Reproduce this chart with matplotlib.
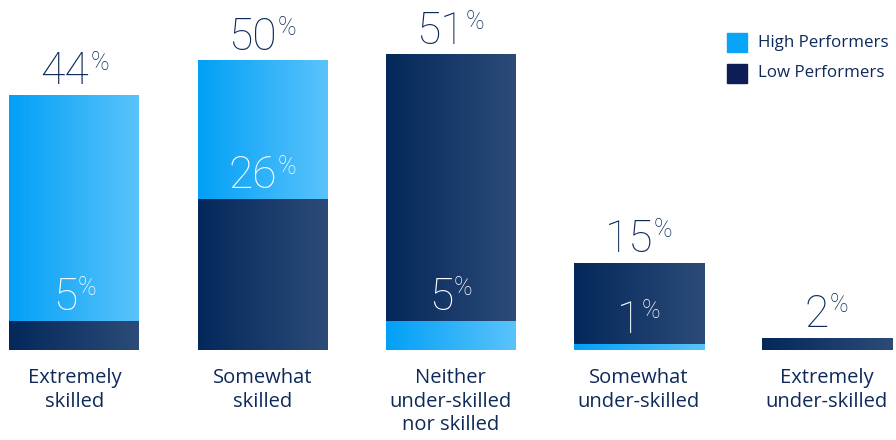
import numpy as np
import matplotlib
matplotlib.use("Agg")
import matplotlib.pyplot as plt
from matplotlib.colors import LinearSegmentedColormap

plt.rcParams['font.family'] = ['Open Sans', 'DejaVu Sans']
NUM_FONT = ['Roboto', 'DejaVu Sans']

categories = ["Extremely\nskilled", "Somewhat\nskilled", "Neither\nunder-skilled\nnor skilled",
              "Somewhat\nunder-skilled", "Extremely\nunder-skilled"]
high_perf = [44, 50, 5, 1, 0]
low_perf = [5, 26, 51, 15, 2]

NAVY = "#0d2a5a"
light_cmap = LinearSegmentedColormap.from_list("light", ["#02a0f6", "#5ac3fb"])
dark_cmap = LinearSegmentedColormap.from_list("dark", ["#04285b", "#2c4b78"])

W, H = 896, 440
fig = plt.figure(figsize=(W/100, H/100), dpi=100)
ax = fig.add_axes([0, 90/H, 1, 350/H])
spacing = 188.0
xlim = (-74.5/spacing, (W-74.5)/spacing)
ylim = (0, 51*350/295)

x = np.arange(len(categories))
width = 130/spacing
grad = np.linspace(0, 1, 256).reshape(1, -1)


def gradient_bars(vals, cmap, zorders):
    bars = ax.bar(x, vals, width=width, color='none')
    for b, z in zip(bars, zorders):
        if b.get_height() <= 0:
            continue
        x0, y0 = b.get_x(), b.get_y()
        ax.imshow(grad, cmap=cmap, aspect='auto', zorder=z,
                  extent=(x0, x0+b.get_width(), y0, y0+b.get_height()))
    return bars


# the shorter series of each column is drawn in front
hz = [2 if h >= l else 4 for h, l in zip(high_perf, low_perf)]
lz = [2 if l > h else 4 for h, l in zip(high_perf, low_perf)]
gradient_bars(high_perf, light_cmap, hz)
gradient_bars(low_perf, dark_cmap, lz)
ax.set_xlim(*xlim)
ax.set_ylim(*ylim)
ax.axis('off')

NUM_PT = 32
PCT_PT = 18
GAP_PT = 8
labels = []
for i in x:
    h, l = high_perf[i], low_perf[i]
    top, inner = max(h, l), min(h, l)
    for v, col in ((top, NAVY), (inner, 'white')):
        if v <= 0:
            continue
        labels.append(ax.annotate(f"{v}", (i, v), xytext=(-7, GAP_PT), textcoords='offset points',
                                  ha='center', va='baseline', fontsize=NUM_PT, weight='light',
                                  family=NUM_FONT, color=col, zorder=6))

# raised percent sign right after each number
fig.canvas.draw()
r = fig.canvas.get_renderer()
px = fig.dpi/72
for t in labels:
    bb = t.get_window_extent(r)
    base = ax.transData.transform(t.xy)[1] + GAP_PT*px
    cap_top = base + 0.711*NUM_PT*px
    fig.text((bb.x1 + 1)/W, (cap_top - 0.711*PCT_PT*px + 1)/H, "%", fontsize=PCT_PT,
             weight='light', family=NUM_FONT, color=t.get_color(), ha='left',
             va='baseline', zorder=7)

for i, c in enumerate(categories):
    fig.text((74.5 + spacing*i)/W, 1 - 368/H, c, ha='center', va='top', fontsize=14.5,
             color=NAVY, linespacing=1.25)

# legend
fig.patches.append(plt.Rectangle((727/W, 1-52/H), 20/W, 19/H, transform=fig.transFigure,
                                 color="#0aa4f6"))
fig.patches.append(plt.Rectangle((727/W, 1-83/H), 20/W, 19/H, transform=fig.transFigure,
                                 color="#0e1d55"))
fig.text(758/W, 1-43/H, "High Performers", fontsize=12.2, color=NAVY, va='center', ha='left')
fig.text(758/W, 1-73/H, "Low Performers", fontsize=12.2, color=NAVY, va='center', ha='left')

fig.savefig("out.png", dpi=100)
